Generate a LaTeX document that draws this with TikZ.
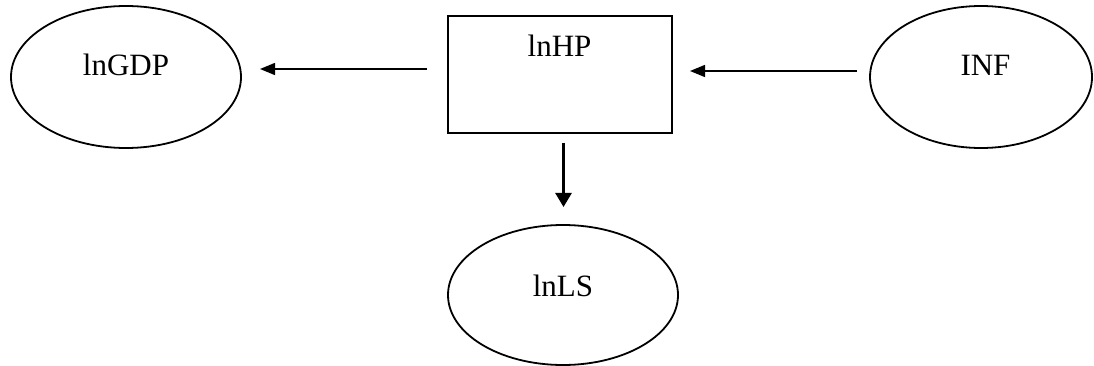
\documentclass[tikz,border=0pt]{standalone}
\usepackage{fontspec}
\setmainfont{Liberation Serif}
\usetikzlibrary{shapes.geometric,arrows.meta}
\begin{document}
\begin{tikzpicture}[x=1pt,y=-1pt,
  oval/.style={draw,ellipse,line width=1.8pt,inner sep=0pt},
  box/.style={draw,rectangle,line width=1.8pt,inner sep=0pt},
  lbl/.style={anchor=base,inner sep=0pt,font=\fontsize{31}{36}\selectfont},
  thinarrow/.style={line width=1.4pt,-{Triangle[length=15pt,width=12pt]}},
  thickarrow/.style={line width=2.6pt,-{Triangle[length=14pt,width=16pt]}}]
\useasboundingbox (0,0) rectangle (1094,366);
\node[oval,minimum width=230pt,minimum height=142pt] (gdp) at (126,77) {};
\node[box,minimum width=224pt,minimum height=117pt] (hp) at (560,74.5) {};
\node[oval,minimum width=222pt,minimum height=142pt] (inf) at (981,77) {};
\node[oval,minimum width=230pt,minimum height=140pt] (ls) at (563,295) {};
\node[lbl] (tgdp) at (126,76) {lnGDP};
\node[lbl] (thp) at (559.5,57) {lnHP};
\node[lbl] (tinf) at (985.5,76) {INF};
\node[lbl] (tls) at (563,296) {lnLS};
\coordinate (a1s) at (427,69);
\coordinate (a1e) at (260,69);
\coordinate (a2s) at (857,71);
\coordinate (a2e) at (690,71);
\coordinate (a3s) at (563.5,143);
\coordinate (a3e) at (563.5,207);
\draw[thinarrow] (a1s) -- (a1e);
\draw[thinarrow] (a2s) -- (a2e);
\draw[thickarrow] (a3s) -- (a3e);
\end{tikzpicture}
\end{document}
